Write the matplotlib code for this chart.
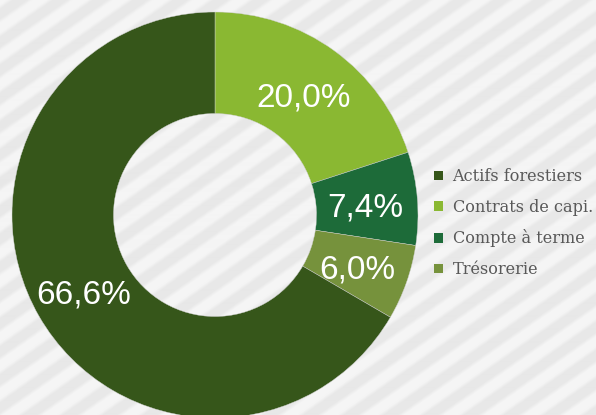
import numpy as np
import matplotlib
matplotlib.use("Agg")
import matplotlib.pyplot as plt
from matplotlib.patches import Patch

# slices in drawing order (clockwise from 12 o'clock)
labels = ["Contrats de capi.", "Compte à terme", "Trésorerie", "Actifs forestiers"]
values = [20.0, 7.4, 6.0, 66.6]
colors = ["#8ab832", "#1d6b39", "#76923c", "#36561a"]
legend_order = ["Actifs forestiers", "Contrats de capi.", "Compte à terme", "Trésorerie"]

W, H = 596, 415
fig = plt.figure(figsize=(W / 100, H / 100), dpi=100)

# striped background
bg = fig.add_axes([0, 0, 1, 1])
bg.set_axis_off()
yy, xx = np.mgrid[0:H, 0:W]
ang = np.deg2rad(35)
d = (xx * np.sin(ang) + yy * np.cos(ang)) / 23.0
tri = np.abs((d % 1.0) - 0.5) * 2  # 0..1
t = np.clip((tri - 0.35) / 0.3, 0, 1)
img = 0.91 + t * (0.96 - 0.91)
bg.imshow(img, cmap="gray", vmin=0, vmax=1, extent=[0, W, 0, H], aspect="auto",
          interpolation="bilinear")
bg.set_xlim(0, W)
bg.set_ylim(0, H)

# donut
cx, cy, r = 215, 200, 203
ax = fig.add_axes([(cx - r) / W, (H - cy - 15 - r) / H, 2 * r / W, 2 * r / H])
ax.set_axis_off()
wedges, texts, autotexts = ax.pie(
    values, colors=colors, startangle=90, counterclock=False,
    radius=1.0, wedgeprops=dict(width=0.5, edgecolor="#d0d0d0", linewidth=0.3),
    autopct=lambda p: f"{p:.1f}%".replace(".", ","), pctdistance=0.745,
    textprops=dict(color="white", fontsize=24, family="Liberation Sans"))
for t in autotexts:
    x, y = t.get_position()
    t.set_position((x, y - 0.025))
ax.set_xlim(-1, 1)
ax.set_ylim(-1, 1)
ax.set_aspect("equal")

handles = [Patch(facecolor=colors[labels.index(n)], edgecolor="none") for n in legend_order]
leg = fig.legend(handles, legend_order, loc="upper left",
                 bbox_to_anchor=(426 / W, 1 - 160 / H), frameon=False,
                 prop=dict(family="DejaVu Serif", size=11.6),
                 handlelength=0.55, handleheight=0.55, handletextpad=0.6,
                 labelspacing=0.85, borderpad=0, labelcolor="#595959")

fig.savefig("out.png", dpi=100)
